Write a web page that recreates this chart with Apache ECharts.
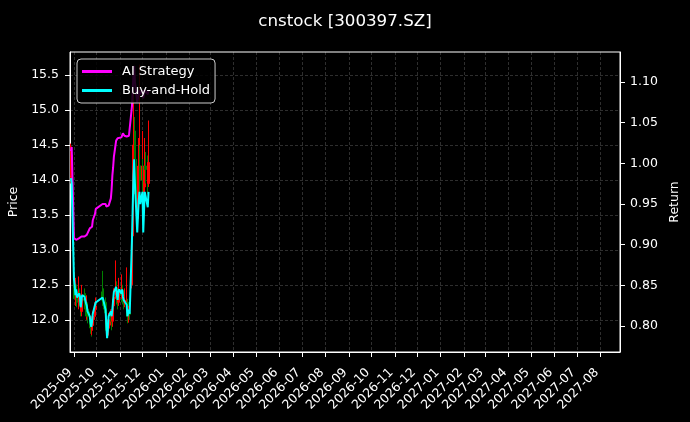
<!DOCTYPE html>
<html>
<head>
<meta charset="utf-8">
<script src="https://cdn.jsdelivr.net/npm/echarts@6/dist/echarts.min.js"></script>
<style>
  html, body { margin: 0; padding: 0; background: #000; }
  #main { width: 690px; height: 422px; }
</style>
</head>
<body>
<div id="main"></div>
<script>
// trading days shown on the chart
var dates = [
  '2025-08-28','2025-08-29',
  '2025-09-01','2025-09-02','2025-09-03','2025-09-04','2025-09-05',
  '2025-09-08','2025-09-09','2025-09-10','2025-09-11','2025-09-12',
  '2025-09-15','2025-09-16','2025-09-17','2025-09-18','2025-09-19',
  '2025-09-22','2025-09-23','2025-09-24','2025-09-25','2025-09-26',
  '2025-09-29','2025-09-30',
  '2025-10-09','2025-10-10',
  '2025-10-13','2025-10-14','2025-10-15','2025-10-16','2025-10-17',
  '2025-10-20','2025-10-21','2025-10-22','2025-10-23','2025-10-24',
  '2025-10-27','2025-10-28','2025-10-29','2025-10-30','2025-10-31',
  '2025-11-03','2025-11-04','2025-11-05','2025-11-06','2025-11-07',
  '2025-11-10','2025-11-11','2025-11-12','2025-11-13','2025-11-14',
  '2025-11-17','2025-11-18','2025-11-19','2025-11-20','2025-11-21',
  '2025-11-24','2025-11-25','2025-11-26','2025-11-27','2025-11-28',
  '2025-12-01','2025-12-02','2025-12-03','2025-12-04','2025-12-05',
  '2025-12-08','2025-12-09'
];

var openP = [14.05,14.20, 12.55,12.40,12.50,12.30,12.40, 12.25,12.35,12.28,12.12,12.25,
  12.30,12.28,12.22,12.10,12.15, 12.05,11.98,11.90,11.85,11.92, 12.05,12.15, 12.40,12.28,
  12.25,12.05,11.80,11.78,11.88, 12.00,12.05,11.98,12.08,12.20, 12.35,12.45,12.30,12.25,12.38,
  12.42,12.35,12.42,12.30,12.25, 12.20,12.25,12.05,12.02,12.10, 12.50,13.20,13.80,14.50,14.70,
  14.20,13.45,13.80,14.10,14.20, 14.00,14.20,13.55,13.90,14.20, 14.15,13.95];
var closeP = [14.40,14.35, 12.45,12.55,12.30,12.45,12.25, 12.35,12.30,12.12,12.25,12.30,
  12.28,12.22,12.18,12.15,12.05, 11.98,11.90,11.85,11.92,12.05, 12.15,12.20, 12.28,12.25,
  12.10,11.85,11.78,11.88,12.00, 12.05,11.98,12.08,12.20,12.32, 12.45,12.30,12.25,12.38,12.42,
  12.35,12.42,12.30,12.25,12.28, 12.28,12.05,12.02,12.10,12.08, 13.20,13.80,14.50,14.70,14.30,
  13.45,13.80,14.10,14.20,14.00, 14.20,13.55,13.90,14.20,14.15, 13.95,14.25];
var lowP = [13.95,14.00, 12.30,12.30,12.20,12.20,12.18, 12.15,12.20,12.05,12.05,12.15,
  12.15,12.10,12.05,12.00,11.95, 11.88,11.80,11.76,11.78,11.85, 12.00,12.05, 12.20,12.15,
  12.00,11.78,11.74,11.75,11.82, 11.92,11.85,11.90,12.00,12.10, 12.30,12.22,12.15,12.20,12.28,
  12.25,12.30,12.22,12.15,12.18, 12.10,11.98,11.95,11.96,12.00, 12.45,13.10,13.70,14.20,14.10,
  13.30,13.40,13.70,13.90,13.80, 13.85,13.40,13.50,13.80,13.95, 13.80,13.90];
var highP = [14.52,14.48, 12.70,12.68,12.55,12.60,12.48, 12.62,12.45,12.35,12.40,12.50,
  12.45,12.38,12.30,12.35,12.25, 12.12,12.05,12.00,12.05,12.12, 12.25,12.32, 12.70,12.45,
  12.32,12.15,11.98,12.00,12.10, 12.15,12.10,12.20,12.30,12.45, 12.85,12.55,12.40,12.50,12.60,
  12.55,12.65,12.50,12.40,12.45, 12.75,12.30,12.15,12.20,12.25, 13.25,14.00,14.60,15.30,14.90,
  14.30,14.20,14.60,15.65,14.50, 14.70,14.30,14.20,14.60,14.40, 14.35,14.85];

var aiStrategy = [1.015,1.020, 0.908,0.908,0.908,0.906,0.906, 0.908,0.910,0.910,0.910,0.910,
  0.910,0.910,0.912,0.912,0.912, 0.920,0.920,0.921,0.922,0.930, 0.938,0.944, 0.950,0.952,
  0.950,0.947,0.945,0.947,0.948, 0.957,0.968,0.985,0.995,1.008, 1.028,1.030,1.031,1.031,1.032,
  1.032,1.034,1.037,1.036,1.034, 1.033,1.033,1.034,1.034,1.036, 1.070,1.090,1.110,1.120,1.100,
  1.075,1.080,1.085,1.090,1.085, 1.090,1.080,1.085,1.090,1.090, 1.085,1.090];
var buyHold = [0.982,0.975, 0.858,0.850,0.838,0.845,0.835, 0.840,0.836,0.823,0.832,0.838,
  0.836,0.832,0.828,0.825,0.818, 0.812,0.804,0.799,0.805,0.815, 0.826,0.829, 0.835,0.832,
  0.820,0.800,0.785,0.795,0.812, 0.818,0.812,0.820,0.832,0.842, 0.848,0.838,0.832,0.842,0.845,
  0.840,0.845,0.836,0.832,0.834, 0.826,0.812,0.810,0.820,0.815, 0.905,0.945,0.985,1.005,0.975,
  0.915,0.935,0.955,0.965,0.950, 0.965,0.915,0.940,0.965,0.965, 0.946,0.965];

var monthTicks = ['2025-09-01','2025-10-01','2025-11-01','2025-12-01','2026-01-01','2026-02-01',
  '2026-03-01','2026-04-01','2026-05-01','2026-06-01','2026-07-01','2026-08-01','2026-09-01',
  '2026-10-01','2026-11-01','2026-12-01','2027-01-01','2027-02-01','2027-03-01','2027-04-01',
  '2027-05-01','2027-06-01','2027-07-01','2027-08-01'];
var priceTicks = [12.0, 12.5, 13.0, 13.5, 14.0, 14.5, 15.0, 15.5];
var returnTicks = [0.80, 0.85, 0.90, 0.95, 1.00, 1.05, 1.10];

function toTime(s) {
  var p = s.split('-');
  return new Date(+p[0], +p[1] - 1, +p[2]).getTime();
}
function pad(n) { return n < 10 ? '0' + n : '' + n; }

var monthTimes = monthTicks.map(toTime);
var candles = [];
var aiLine = [];
var bhLine = [];
for (var i = 0; i < dates.length; i++) {
  var t = toTime(dates[i]);
  candles.push([t, openP[i], closeP[i], lowP[i], highP[i]]);
  aiLine.push([t, aiStrategy[i]]);
  bhLine.push([t, buyHold[i]]);
}

var chart = echarts.init(document.getElementById('main'));
var gridLine = { color: 'rgba(255,255,255,0.3)', width: 0.6, type: [3, 2] };
var font = 'DejaVu Sans';

var option = {
  backgroundColor: '#000',
  animation: false,
  textStyle: { fontFamily: font, color: '#fff' },
  title: {
    text: 'cnstock [300397.SZ]',
    left: 'center',
    top: 8,
    textStyle: { color: '#fff', fontSize: 16.7, fontWeight: 'normal', fontFamily: font }
  },
  legend: {
    orient: 'vertical',
    left: 77,
    top: 59,
    data: ['AI Strategy', 'Buy-and-Hold'],
    icon: 'rect',
    itemWidth: 30,
    itemHeight: 3,
    itemGap: 6,
    padding: [6, 5, 6, 5],
    backgroundColor: 'rgba(0,0,0,0.85)',
    borderColor: '#ccc',
    borderWidth: 1,
    borderRadius: 4,
    textStyle: { color: '#fff', fontSize: 13, fontFamily: font, padding: [0, 0, 0, 5] }
  },
  grid: {
    left: 70, right: 70, top: 52, bottom: 70,
    show: true, borderColor: '#fff', borderWidth: 1,
    outerBoundsMode: 'none'
  },
  xAxis: {
    // dates as millisecond values, ticks on month starts
    type: 'value',
    min: new Date(2025, 7, 26, 18).getTime(),
    max: new Date(2027, 7, 27).getTime(),
    axisLine: { show: true, lineStyle: { color: '#fff' } },
    axisTick: { show: true, length: 5, customValues: monthTimes, lineStyle: { color: '#fff' } },
    axisLabel: {
      customValues: monthTimes,
      rotate: 45,
      margin: 15,
      padding: [0, 5, 0, 0],
      color: '#fff',
      fontSize: 12.5,
      fontFamily: font,
      formatter: function (v) {
        var d = new Date(v);
        return d.getFullYear() + '-' + pad(d.getMonth() + 1);
      }
    },
    splitLine: { show: true, lineStyle: gridLine }
  },
  yAxis: [{
    type: 'value',
    position: 'left',
    min: 11.54,
    max: 15.83,
    name: 'Price',
    nameLocation: 'middle',
    nameGap: 46,
    nameTextStyle: { color: '#fff', fontSize: 12.5, fontFamily: font },
    axisLine: { show: true, lineStyle: { color: '#fff' } },
    axisTick: { show: true, length: 5, customValues: priceTicks, lineStyle: { color: '#fff' } },
    axisLabel: {
      customValues: priceTicks,
      margin: 11,
      color: '#fff',
      fontSize: 12.5,
      fontFamily: font,
      formatter: function (v) { return v.toFixed(1); }
    },
    splitLine: { show: true, lineStyle: gridLine }
  }, {
    type: 'value',
    position: 'right',
    min: 0.768,
    max: 1.137,
    name: 'Return',
    nameLocation: 'middle',
    nameGap: 44,
    nameTextStyle: { color: '#fff', fontSize: 12.5, fontFamily: font },
    axisLine: { show: true, lineStyle: { color: '#fff' } },
    axisTick: { show: true, length: 5, customValues: returnTicks, lineStyle: { color: '#fff' } },
    axisLabel: {
      customValues: returnTicks,
      margin: 10,
      color: '#fff',
      fontSize: 12.5,
      fontFamily: font,
      formatter: function (v) { return v.toFixed(2); }
    },
    splitLine: { show: false }
  }],
  series: [{
    name: 'Price',
    type: 'candlestick',
    yAxisIndex: 0,
    barWidth: 1.8,
    encode: { x: 0, y: [1, 2, 3, 4] },
    itemStyle: {
      color: '#ff0000',
      color0: '#008000',
      borderColor: '#ff0000',
      borderColor0: '#008000',
      borderWidth: 1
    },
    data: candles
  }, {
    name: 'AI Strategy',
    type: 'line',
    yAxisIndex: 1,
    showSymbol: false,
    symbol: 'none',
    itemStyle: { color: '#ff00ff' },
    lineStyle: { color: '#ff00ff', width: 2 },
    data: aiLine
  }, {
    name: 'Buy-and-Hold',
    type: 'line',
    yAxisIndex: 1,
    showSymbol: false,
    symbol: 'none',
    itemStyle: { color: '#00ffff' },
    lineStyle: { color: '#00ffff', width: 2 },
    data: bhLine
  }]
};
chart.setOption(option);
</script>
</body>
</html>
